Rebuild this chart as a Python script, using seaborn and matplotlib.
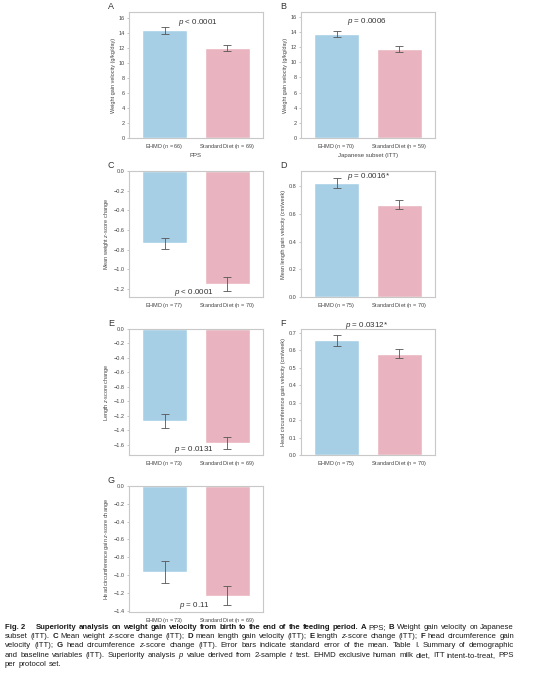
import matplotlib
matplotlib.use("Agg")
import matplotlib.pyplot as plt
import numpy as np
import pandas as pd
import seaborn as sns

# ---- data ----
groups = ["EHMD", "Standard Diet"]

a_n = [66, 69]
a_mean = [14.3, 12.0]
a_se = [0.42, 0.40]

b_n = [70, 59]
b_mean = [13.73, 11.73]
b_se = [0.38, 0.40]

c_n = [77, 70]
c_mean = [-0.735, -1.15]
c_se = [0.058, 0.07]

d_n = [75, 70]
d_mean = [0.826, 0.668]
d_se = [0.036, 0.032]

e_n = [73, 69]
e_mean = [-1.264, -1.574]
e_se = [0.097, 0.079]

f_n = [75, 70]
f_mean = [0.656, 0.58]
f_se = [0.032, 0.026]

g_n = [73, 69]
g_mean = [-0.966, -1.232]
g_se = [0.125, 0.11]

p_texts = ["$p$ < 0.0001", "$p$ = 0.0006", "$p$ < 0.0001", "$p$ = 0.0016*",
           "$p$ = 0.0131", "$p$ = 0.0312*", "$p$ = 0.11"]
y_labels = ["Weight gain velocity (g/kg/day)",
            "Weight gain velocity (g/kg/day)",
            "Mean weight $z$-score change",
            "Mean length gain velocity (cm/week)",
            "Length $z$-score change",
            "Head circumference gain velocity (cm/week)",
            "Head circumference gain $z$-score change"]
x_titles = ["PPS", "Japanese subset (ITT)", "", "", "", "", ""]
letters = ["A", "B", "C", "D", "E", "F", "G"]

blue = "#a6cfe5"
pink = "#e9b4bf"

sns.set_theme(style="white")
plt.rcParams["font.family"] = ["Liberation Sans", "DejaVu Sans"]
plt.rcParams["mathtext.fontset"] = "custom"
plt.rcParams["mathtext.rm"] = "Liberation Sans"
plt.rcParams["mathtext.it"] = "Liberation Sans:italic"
plt.rcParams["mathtext.bf"] = "Liberation Sans:bold"

W, H = 543, 680
fig = plt.figure(figsize=(W / 100, H / 100), dpi=100)

# axes boxes in pixels: left, top
boxes = [(129, 12), (301, 12), (129, 171), (301, 171),
         (129, 329), (301, 329), (129, 486)]
aw, ah = 134, 126

panels = [
    (a_n, a_mean, a_se, (0, 16.75), np.arange(0, 17, 2), (0.53, 15.4)),
    (b_n, b_mean, b_se, (0, 16.65), np.arange(0, 17, 2), (0.48, 15.33)),
    (c_n, c_mean, c_se, (-1.28, 0), np.arange(-1.2, 0.01, 0.2), (0.47, -1.23)),
    (d_n, d_mean, d_se, (0, 0.91), np.arange(0, 0.81, 0.2), (0.51, 0.87)),
    (e_n, e_mean, e_se, (-1.74, 0), np.arange(-1.6, 0.01, 0.2), (0.47, -1.667)),
    (f_n, f_mean, f_se, (0, 0.721), np.arange(0, 0.71, 0.1), (0.48, 0.742)),
    (g_n, g_mean, g_se, (-1.415, 0), np.arange(-1.4, 0.01, 0.2), (0.47, -1.34)),
]


def fmt_tick(t):
    t = 0.0 if abs(t) < 1e-9 else t
    return f"{t:.1f}".replace("-", "\u2212")


for i, (ns, means, ses, ylim, yticks, ppos) in enumerate(panels):
    left, top = boxes[i]
    ax = fig.add_axes([left / W, 1 - (top + ah) / H, aw / W, ah / H])
    labels = [f"{g} ($n$ = {n})" for g, n in zip(groups, ns)]
    df = pd.DataFrame({"group": labels, "mean": means})
    sns.barplot(data=df, x="group", y="mean", hue="group",
                palette=[blue, pink], width=0.72, saturation=1,
                errorbar=None, legend=False, ax=ax)
    ax.errorbar(np.arange(2), means, yerr=ses, fmt="none", ecolor="#555555",
                elinewidth=0.6, capsize=2.6, capthick=0.6)
    ax.set_xlim(-0.57, 1.57)
    ax.set_ylim(*ylim)
    ax.set_yticks(yticks)
    if ylim[1] < 1:
        ax.set_yticklabels([fmt_tick(t) for t in yticks])
    ax.set_xlabel(x_titles[i], fontsize=4.3, color="#444444", labelpad=1.5)
    ax.set_ylabel(y_labels[i], fontsize=4.0, color="#444444", labelpad=2)
    ax.tick_params(axis="both", labelsize=4.0, labelcolor="#444444",
                   color="#999999", length=1.5, width=0.4, pad=1.5,
                   left=True, bottom=False)
    for sp in ax.spines.values():
        sp.set_color("#c8c8c8")
        sp.set_linewidth(0.8)
    ax.text(ppos[0], ppos[1], p_texts[i], ha="center", va="center",
            fontsize=5.8, color="#333333", clip_on=False)
    ax.text(-0.134, 1.04, letters[i], transform=ax.transAxes, ha="center",
            va="center", fontsize=6.5, color="#333333")

# ---- caption ----
caption = [
    [("Fig.\u00a02\u2003", "b"),
     ("Superiority analysis on weight gain velocity from birth to the end of the feeding period.", "b"),
     ("A", "b"), ("PPS;", "n"), ("B", "b"), ("Weight gain velocity on Japanese", "n")],
    [("subset (ITT).", "n"), ("C", "b"), ("Mean weight $z$-score change (ITT);", "n"),
     ("D", "b"), ("mean length gain velocity (ITT);", "n"), ("E", "b"),
     ("length $z$-score change (ITT);", "n"), ("F", "b"), ("head circumference gain", "n")],
    [("velocity (ITT);", "n"), ("G", "b"),
     ("head circumference $z$-score change (ITT). Error bars indicate standard error of the mean. Table I. Summary of demographic", "n")],
    [("and baseline variables (ITT). Superiority analysis $p$ value derived from 2-sample $t$ test. EHMD exclusive human milk diet, ITT intent-to-treat, PPS", "n")],
    [("per protocol set.", "n")],
]

cap_fs = 5.6
renderer = fig.canvas.get_renderer()
x0, x1 = 5 / W, 514 / W
probe_a = fig.text(0, 0, "a a", fontsize=cap_fs)
probe_b = fig.text(0, 0, "aa", fontsize=cap_fs)
space_w = (probe_a.get_window_extent(renderer).width
           - probe_b.get_window_extent(renderer).width) / fig.bbox.width
probe_a.remove()
probe_b.remove()

for li, parts in enumerate(caption):
    y = 1 - (629 + 9.2 * li) / H
    words = []
    for text, st in parts:
        for w in text.split(" "):
            if w:
                words.append((w, st))
    arts = []
    for w, st in words:
        arts.append(fig.text(0, y, w, fontsize=cap_fs, va="baseline",
                             color="#1a1a1a",
                             fontweight="bold" if st == "b" else "normal"))
    widths = [a.get_window_extent(renderer).width / fig.bbox.width for a in arts]
    if li == len(caption) - 1:
        gap = space_w
    else:
        gap = max(space_w * 0.8, (x1 - x0 - sum(widths)) / (len(words) - 1))
    x = x0
    for a, wd in zip(arts, widths):
        a.set_x(x)
        x += wd + gap

fig.savefig("out.png", dpi=100)
